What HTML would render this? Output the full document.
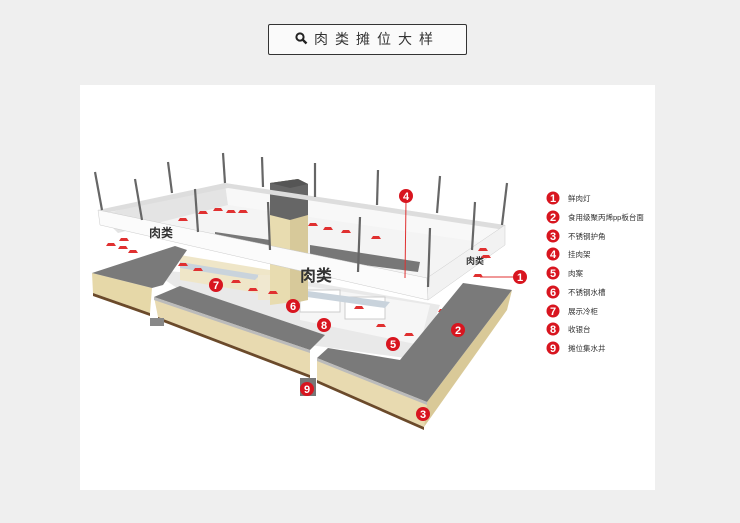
<!DOCTYPE html>
<html><head><meta charset="utf-8"><style>
html,body{margin:0;padding:0}
body{width:740px;height:523px;background:#efefef;position:relative;overflow:hidden;font-family:"Liberation Sans","Noto Sans CJK SC",sans-serif}
.title{position:absolute;left:268px;top:24px;width:197px;height:29px;border:1.5px solid #333;border-radius:2px;background:#fafafa;text-align:center;line-height:29px;font-size:14px;color:#333;letter-spacing:7px}
.panel{position:absolute;left:80px;top:85px;width:575px;height:405px;background:#fff}
</style></head><body>
<div class="title"><svg width="13" height="13" viewBox="0 0 13 13" style="vertical-align:-1px;margin-right:6px"><circle cx="5" cy="5" r="3.6" fill="none" stroke="#222" stroke-width="2"/><line x1="7.7" y1="7.7" x2="11.5" y2="11.5" stroke="#222" stroke-width="2.4"/></svg>肉类摊位大样</div>
<div class="panel"></div>
<svg width="740" height="523" style="position:absolute;left:0;top:0" font-family="Liberation Sans, Noto Sans CJK SC, sans-serif">
<polygon points="100,225 225,190 505,235 428,300" fill="#f4f4f4"/>
<polygon points="150,270 300,280 440,305 420,360 310,345 180,290" fill="#e9e9e9"/>
<polygon points="100,215 225,183 228,205 118,233" fill="#e4e4e4"/>
<polygon points="225,183 505,225 500,245 228,205" fill="#f8f8f8"/>
<polygon points="215,232 270,240 268,252 215,245" fill="#777"/>
<polygon points="310,245 420,262 418,272 310,258" fill="#777"/>
<polygon points="180,255 300,275 300,300 180,280" fill="#efe6c8"/>
<polygon points="300,285 430,305 420,345 300,320" fill="#f6f6f6"/>
<rect x="300" y="290" width="40" height="22" fill="#fff" stroke="#ccc"/>
<rect x="345" y="297" width="40" height="22" fill="#fff" stroke="#ccc"/>
<polygon points="300,290 390,302 385,308 300,296" fill="#c9d3dc"/>
<polygon points="180,262 260,275 255,280 180,268" fill="#c9d3dc"/>
<rect x="258" y="275" width="25" height="25" fill="#f0e8d0"/>
<polygon points="270,183 298,179 308,184 308,300 270,305" fill="#e8dcb0"/>
<polygon points="290,220 308,215 308,300 290,304" fill="#d7c99a"/>
<polygon points="270,183 298,179 308,184 308,215 290,220 270,215" fill="#666"/>
<polygon points="270,183 298,179 308,184 290,188" fill="#555"/>
<polygon points="98,210 225,183 228,188 100,214" fill="#ddd"/>
<polygon points="225,183 505,225 505,230 228,188" fill="#ddd"/>
<polygon points="98,210 427,278 428,300 100,225" fill="#fbfbfb" stroke="#ccc" stroke-width=".5"/>
<polygon points="427,278 505,225 505,245 428,300" fill="#f2f2f2" stroke="#ccc" stroke-width=".5"/>
<text x="300" y="281" font-size="16" fill="#333" font-weight="bold">肉类</text>
<text x="149" y="237" font-size="12" fill="#333" font-weight="bold">肉类</text>
<text x="466" y="264" font-size="9" fill="#333" font-weight="bold">肉类</text>
<g stroke="#666" stroke-width="2.2">
<line x1="95" y1="172" x2="102" y2="210"/><line x1="135" y1="179" x2="142" y2="220"/>
<line x1="168" y1="162" x2="172" y2="193"/><line x1="195" y1="189" x2="198" y2="232"/>
<line x1="223" y1="153" x2="225" y2="183"/><line x1="262" y1="157" x2="263" y2="187"/>
<line x1="268" y1="202" x2="270" y2="250"/><line x1="315" y1="163" x2="315" y2="197"/>
<line x1="360" y1="217" x2="358" y2="272"/><line x1="378" y1="170" x2="377" y2="205"/>
<line x1="430" y1="228" x2="428" y2="287"/><line x1="440" y1="176" x2="437" y2="213"/>
<line x1="475" y1="202" x2="472" y2="250"/><line x1="507" y1="183" x2="502" y2="225"/>
</g>
<g fill="#e03030">
<path d="M108 243h6l2 3h-10z"/><path d="M120 246h6l2 3h-10z"/><path d="M130 250h6l2 3h-10z"/><path d="M121 238h6l2 3h-10z"/>
<path d="M180 218h6l2 3h-10z"/><path d="M200 211h6l2 3h-10z"/><path d="M215 208h6l2 3h-10z"/><path d="M228 210h6l2 3h-10z"/><path d="M240 210h6l2 3h-10z"/>
<path d="M310 223h6l2 3h-10z"/><path d="M325 227h6l2 3h-10z"/><path d="M343 230h6l2 3h-10z"/><path d="M373 236h6l2 3h-10z"/>
<path d="M480 248h6l2 3h-10z"/><path d="M483 255h6l2 3h-10z"/><path d="M475 274h6l2 3h-10z"/><path d="M463 284h6l2 3h-10z"/><path d="M453 296h6l2 3h-10z"/><path d="M440 309h6l2 3h-10z"/>
<path d="M180 263h6l2 3h-10z"/><path d="M195 268h6l2 3h-10z"/><path d="M233 280h6l2 3h-10z"/><path d="M250 288h6l2 3h-10z"/><path d="M270 291h6l2 3h-10z"/>
<path d="M356 306h6l2 3h-10z"/><path d="M378 324h6l2 3h-10z"/><path d="M406 333h6l2 3h-10z"/>
</g>
<polygon points="92,273 152,288 150,313 93,293" fill="#e6d8a8"/>
<polygon points="93,293 150,313 150,316 93,296" fill="#6b4a2a"/>
<polygon points="92,273 175,246 187,250 163,285 152,288" fill="#7a7a7a"/>
<polygon points="154,297 310,350 310,375 158,317" fill="#e8dab0"/>
<polygon points="158,317 310,375 310,378 158,320" fill="#6b4a2a"/>
<polygon points="154,297 180,286 325,335 310,350" fill="#7a7a7a"/>
<polygon points="154,297 310,350 310,353 154,300" fill="#bbb"/>
<rect x="150" y="318" width="14" height="8" fill="#888"/>
<rect x="300" y="378" width="16" height="18" fill="#777"/>
<polygon points="317,358 427,402 424,427 317,380" fill="#e8dab0"/>
<polygon points="317,380 424,427 424,430 317,383" fill="#6b4a2a"/>
<polygon points="427,402 512,290 507,310 424,427" fill="#d9c998"/>
<polygon points="317,358 328,348 400,360 463,283 512,290 427,402" fill="#7a7a7a"/>
<polygon points="317,358 427,402 427,405 317,361" fill="#bbb"/>
<g stroke="#e03030" stroke-width="1"><line x1="480" y1="277" x2="513" y2="277"/><line x1="406" y1="200" x2="405" y2="278"/></g>
<g fill="#d8151f" font-size="11" font-weight="bold" text-anchor="middle">
<g><circle cx="520" cy="277" r="7"/><circle cx="458" cy="330" r="7"/><circle cx="423" cy="414" r="7"/><circle cx="406" cy="196" r="7"/><circle cx="393" cy="344" r="7"/><circle cx="293" cy="306" r="7"/><circle cx="216" cy="285" r="7"/><circle cx="324" cy="325" r="7"/><circle cx="307" cy="389" r="7"/></g>
<g fill="#fff"><text x="520" y="281">1</text><text x="458" y="334">2</text><text x="423" y="418">3</text><text x="406" y="200">4</text><text x="393" y="348">5</text><text x="293" y="310">6</text><text x="216" y="289">7</text><text x="324" y="329">8</text><text x="307" y="393">9</text></g>
</g>
<g font-size="7.5" fill="#333">
<g fill="#d8151f"><circle cx="553" cy="198" r="6.5"/><circle cx="553" cy="217" r="6.5"/><circle cx="553" cy="236" r="6.5"/><circle cx="553" cy="254" r="6.5"/><circle cx="553" cy="273" r="6.5"/><circle cx="553" cy="292" r="6.5"/><circle cx="553" cy="311" r="6.5"/><circle cx="553" cy="329" r="6.5"/><circle cx="553" cy="348" r="6.5"/></g>
<g fill="#fff" font-size="11" font-weight="bold" text-anchor="middle"><text x="553" y="202">1</text><text x="553" y="221">2</text><text x="553" y="240">3</text><text x="553" y="258">4</text><text x="553" y="277">5</text><text x="553" y="296">6</text><text x="553" y="315">7</text><text x="553" y="333">8</text><text x="553" y="352">9</text></g>
<text x="568" y="201">鲜肉灯</text><text x="568" y="220">食用级聚丙烯pp板台面</text><text x="568" y="239">不锈钢护角</text><text x="568" y="257">挂肉架</text><text x="568" y="276">肉案</text><text x="568" y="295">不锈钢水槽</text><text x="568" y="314">展示冷柜</text><text x="568" y="332">收银台</text><text x="568" y="351">摊位集水井</text>
</g>
</svg>
</body></html>
